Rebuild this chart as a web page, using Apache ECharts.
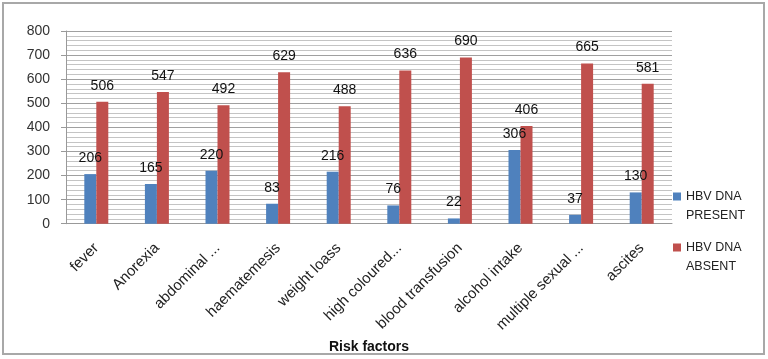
<!DOCTYPE html>
<html><head><meta charset="utf-8">
<script src="https://cdn.jsdelivr.net/npm/echarts@6/dist/echarts.min.js"></script>
<style>html,body{margin:0;padding:0;background:#fff}#c{width:768px;height:359px}</style>
</head><body><div id="c"></div>
<script>
const categories = ['fever','Anorexia','abdominal ...','haematemesis','weight loass','high coloured...','blood transfusion','alcohol intake','multiple sexual ...','ascites'];
const present = [206,165,220,83,216,76,22,306,37,130];
const absent = [506,547,492,629,488,636,690,406,665,581];
const yTicks = [0,100,200,300,400,500,600,700,800];

const chart = echarts.init(document.getElementById('c'));
const font = 'Liberation Sans';
const legendText = {fontFamily: font, fontSize: 12.5, color: '#222', lineHeight: 19};
const legendIcon = 'path://M0,0H0.01V0.01H0Z M0,5.5H8V13.5H0Z M0,37.99H0.01V38H0Z';
chart.setOption({
  animation: false,
  graphic: [{type:'rect', shape:{x:3,y:3,width:761,height:351}, style:{fill:'none', stroke:'#a8a8a8', lineWidth:2}}],
  grid: {left: 66, right: 96, top: 31, bottom: 134},
  legend: [
    {data:['HBV DNA PRESENT'], left: 668, top: 182, itemWidth: 8, itemHeight: 38, icon: legendIcon,
     formatter: n => n.replace('DNA ', 'DNA\n'), textStyle: legendText},
    {data:['HBV DNA ABSENT'], left: 668, top: 233, itemWidth: 8, itemHeight: 38, icon: legendIcon,
     formatter: n => n.replace('DNA ', 'DNA\n'), textStyle: legendText}
  ],
  xAxis: {
    type: 'category', data: categories,
    name: 'Risk factors', nameLocation: 'middle', nameGap: 108,
    nameTextStyle: {fontFamily: font, fontSize: 14, fontWeight: 'bold', color: '#111'},
    axisLine: {lineStyle: {color: '#999'}},
    axisTick: {show: false},
    axisLabel: {interval: 0, rotate: 45, fontFamily: font, fontSize: 15, color: '#222', margin: 22}
  },
  yAxis: {
    type: 'value', min: yTicks[0], max: yTicks[yTicks.length-1], interval: 100,
    axisLine: {show: true, lineStyle: {color: '#999'}},
    axisTick: {show: true, length: 5, lineStyle: {color: '#999'}},
    axisLabel: {fontFamily: font, fontSize: 14, color: '#333', margin: 16},
    splitLine: {lineStyle: {color: '#a0a0a0'}},
    minorTick: {show: false, splitNumber: 5},
    minorSplitLine: {show: true, lineStyle: {color: '#c4c4c4'}}
  },
  series: [
    {name:'HBV DNA PRESENT', type:'bar', data: present, barWidth: 12, barGap: '0%',
     itemStyle:{color:'#4F81BD'},
     label:{show:true, position:'top', distance: 9, fontFamily: font, fontSize: 14, color:'#111'}},
    {name:'HBV DNA ABSENT', type:'bar', data: absent, barWidth: 12,
     itemStyle:{color:'#C0504D'},
     label:{show:true, position:'top', distance: 9, fontFamily: font, fontSize: 14, color:'#111'}}
  ]
});
</script></body></html>
